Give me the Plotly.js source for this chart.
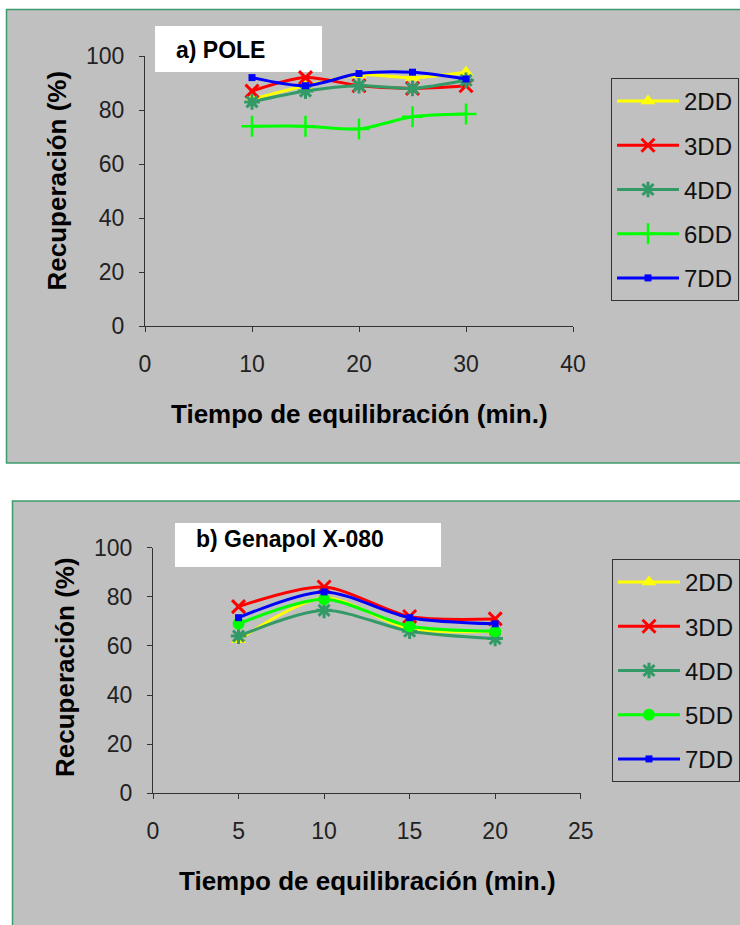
<!DOCTYPE html>
<html>
<head>
<meta charset="utf-8">
<script src="https://cdn.plot.ly/plotly-3.0.1.min.js"></script>
<style>
html,body{margin:0;padding:0;background:#fff;}
#chart{width:740px;height:925px;}
</style>
</head>
<body>
<div id="chart"></div>
<script>
// ---- Data: panel a) POLE ----
const timeA = [10, 15, 20, 25, 30];
const a2DD = [84, 89, 93, 92, 94];
const a3DD = [87, 92, 89, 88, 89];
const a4DD = [83, 87, 89, 88, 91];
const a6DD = [74, 74, 73, 77.5, 78.5];
const a7DD = [92, 89, 93.5, 94, 91.5];
const seriesA = ["2DD", "3DD", "4DD", "6DD", "7DD"];

// ---- Data: panel b) Genapol X-080 ----
const timeB = [5, 10, 15, 20];
const b2DD = [62.5, 79.5, 67, 66];
const b3DD = [76, 84, 72, 71];
const b4DD = [64, 74.5, 66, 63];
const b5DD = [69, 79, 68, 66];
const b7DD = [71.5, 82, 71.5, 69];
const seriesB = ["2DD", "3DD", "4DD", "5DD", "7DD"];

const xTicksA = [0, 10, 20, 30, 40];
const xTicksB = [0, 5, 10, 15, 20, 25];
const yTicks = [0, 20, 40, 60, 80, 100];

const titleA = "a) POLE";
const titleB = "b) Genapol X-080";
const yTitle = "Recuperación (%)";
const xTitle = "Tiempo de equilibración (min.)";

// ---- Styles ----
const W = 740, H = 925;
const px = x => x / W;
const py = y => 1 - y / H;
const FONT = "Liberation Sans, Arial, sans-serif";
const styles = {
  "2DD": {color: "#ffff00", symbol: "triangle-up", size: 13, lw: 0},
  "3DD": {color: "#ff0000", symbol: "x-thin", size: 13, lw: 3},
  "4DD": {color: "#339966", symbol: "asterisk", size: 13, lw: 3},
  "5DD": {color: "#00ff00", symbol: "circle", size: 12, lw: 0},
  "6DD": {color: "#00ff00", symbol: "cross-thin", size: 15, lw: 2.5},
  "7DD": {color: "#0000ff", symbol: "square", size: 7, lw: 0}
};

function mk(name, x, y, xa, ya, leg) {
  const s = styles[name];
  return {
    type: "scatter", mode: "lines+markers", name: name,
    x: x, y: y, xaxis: xa, yaxis: ya, legend: leg,
    legendgroup: leg + name,
    line: {color: s.color, width: 3, shape: "spline", smoothing: 0.8},
    marker: {color: s.color, symbol: s.symbol, size: s.size,
             line: {color: s.color, width: s.lw}},
    hoverinfo: "skip", cliponaxis: false
  };
}

const dataA = [a2DD, a3DD, a4DD, a6DD, a7DD];
const dataB = [b2DD, b3DD, b4DD, b5DD, b7DD];
const traces = [];
seriesA.forEach((n, i) => traces.push(mk(n, timeA, dataA[i], "x", "y", "legend")));
seriesB.forEach((n, i) => traces.push(mk(n, timeB, dataB[i], "x2", "y2", "legend2")));

const axisCommon = {
  showline: true, linecolor: "#333", linewidth: 1,
  ticks: "outside", ticklen: 5, tickcolor: "#333", tickwidth: 1,
  showgrid: false, zeroline: false, fixedrange: true,
  tickfont: {family: FONT, size: 23, color: "#222"}
};

const legendCommon = {
  bgcolor: "#c0c0c0", bordercolor: "#333", borderwidth: 1,
  font: {family: FONT, size: 24, color: "#111"},
  xref: "container", yref: "container",
  xanchor: "left", yanchor: "top",
  traceorder: "grouped", tracegroupgap: 10, itemwidth: 62,
  itemclick: false, itemdoubleclick: false
};

const layout = {
  width: W, height: H,
  margin: {l: 0, r: 0, t: 0, b: 0, autoexpand: false},
  paper_bgcolor: "#ffffff",
  plot_bgcolor: "rgba(0,0,0,0)",
  showlegend: true,
  xaxis: Object.assign({}, axisCommon, {domain: [px(145), px(573)], range: [0, 40],
    tickvals: xTicksA, anchor: "y", ticklabelstandoff: 12}),
  yaxis: Object.assign({}, axisCommon, {domain: [py(326), py(56)], range: [0, 100],
    tickvals: yTicks, anchor: "x", ticklabelstandoff: 10}),
  xaxis2: Object.assign({}, axisCommon, {domain: [px(153), px(580.7)], range: [0, 25],
    tickvals: xTicksB, anchor: "y2", ticklabelstandoff: 12}),
  yaxis2: Object.assign({}, axisCommon, {domain: [py(793.3), py(547.7)], range: [0, 100],
    tickvals: yTicks, anchor: "x2", ticklabelstandoff: 10}),
  legend: Object.assign({}, legendCommon, {x: px(611), y: py(78)}),
  legend2: Object.assign({}, legendCommon, {x: px(612), y: py(559)}),
  shapes: [
    {type: "rect", xref: "paper", yref: "paper", layer: "below",
     x0: px(6.5), x1: 1.02, y0: py(463), y1: py(9.5),
     fillcolor: "#c0c0c0", line: {color: "#3d9a6c", width: 1.5}},
    {type: "rect", xref: "paper", yref: "paper", layer: "below",
     x0: px(12.5), x1: 1.02, y0: -0.02, y1: py(501),
     fillcolor: "#c0c0c0", line: {color: "#3d9a6c", width: 1.5}},
    {type: "rect", xref: "paper", yref: "paper", layer: "below",
     x0: px(155), x1: px(322), y0: py(72), y1: py(26),
     fillcolor: "#ffffff", line: {width: 0}},
    {type: "rect", xref: "paper", yref: "paper", layer: "below",
     x0: px(175), x1: px(441), y0: py(567), y1: py(523),
     fillcolor: "#ffffff", line: {width: 0}}
  ],
  annotations: [
    {text: titleA, xref: "paper", yref: "paper", x: px(174), y: py(50),
     xanchor: "left", yanchor: "middle", showarrow: false,
     font: {family: FONT, size: 23, color: "#000", weight: "bold"}},
    {text: titleB, xref: "paper", yref: "paper", x: px(194), y: py(539),
     xanchor: "left", yanchor: "middle", showarrow: false,
     font: {family: FONT, size: 23, color: "#000", weight: "bold"}},
    {text: xTitle, xref: "paper", yref: "paper", x: px(359.5), y: py(414),
     xanchor: "center", yanchor: "middle", showarrow: false,
     font: {family: FONT, size: 26, color: "#000", weight: "bold"}},
    {text: xTitle, xref: "paper", yref: "paper", x: px(367.5), y: py(881),
     xanchor: "center", yanchor: "middle", showarrow: false,
     font: {family: FONT, size: 26, color: "#000", weight: "bold"}},
    {text: yTitle, xref: "paper", yref: "paper", x: px(56), y: py(180.5),
     xanchor: "center", yanchor: "middle", textangle: -90, showarrow: false,
     font: {family: FONT, size: 26, color: "#000", weight: "bold"}},
    {text: yTitle, xref: "paper", yref: "paper", x: px(65), y: py(667),
     xanchor: "center", yanchor: "middle", textangle: -90, showarrow: false,
     font: {family: FONT, size: 26, color: "#000", weight: "bold"}}
  ]
};

Plotly.newPlot("chart", traces, layout, {staticPlot: true, displayModeBar: false});
</script>
</body>
</html>
